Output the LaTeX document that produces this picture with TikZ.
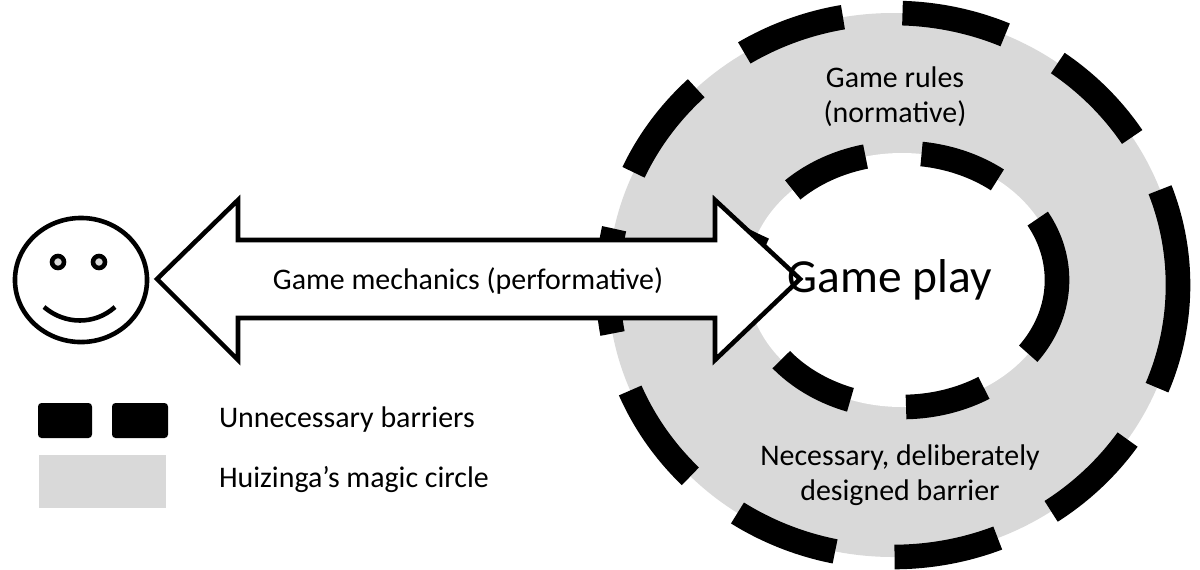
\documentclass[tikz,border=0pt]{standalone}
\usepackage{fontspec}
\setmainfont{Carlito}
\usetikzlibrary{positioning,shapes.geometric}
\definecolor{ringgray}{gray}{0.85}

\begin{document}
\begin{tikzpicture}[x=0.01cm,y=-0.01cm,
barrier/.style={line width=7pt,dash pattern=on 30pt off 17pt},
label/.style={font=\fontsize{8.5}{10}\selectfont,align=center},
every path/.style={line width=1.3pt}]
\useasboundingbox (0,0) rectangle (1200,569);

% magic circle and barriers
\fill[ringgray] (893,285) ellipse [x radius=285, y radius=272];
\fill[white] (902,280) ellipse [x radius=155, y radius=127];
\draw[barrier] (893,285) ellipse [x radius=285, y radius=272];
\draw[barrier,dash pattern=on 23pt off 16pt] (902,280) ellipse [x radius=155, y radius=127];

% smiley
\node[draw,ellipse,minimum width=1.32cm,minimum height=1.24cm,inner sep=0] (face) at (81,280) {};
\node[draw,circle,fill=ringgray,minimum size=0.12cm,inner sep=0] (leye) at (58,262) {};
\node[draw,circle,fill=ringgray,minimum size=0.12cm,inner sep=0] (reye) at (99,262) {};
\coordinate (ms) at (44,307);
\coordinate (me) at (115,307);
\draw (ms) .. controls (65,325) and (95,325) .. (me);

% double arrow
\coordinate (lt) at (157,279);
\coordinate (rt) at (800,279);
\draw[fill=white,line join=miter] (lt) -- (238,200) -- (238,240) -- (715,240) -- (715,200)
  -- (rt) -- (715,360) -- (715,318) -- (238,318) -- (238,360) -- cycle;
\node[label] (mech) at (468,281) {Game mechanics (performative)};

% texts in the circle
\node[label] (rules) at (895,97) {Game rules\\(normative)};
\node[font=\fontsize{13.5}{16}\selectfont] (play) at (890,280) {Game play};
\node[label] (needed) at (900,475) {Necessary, deliberately\\designed barrier};

% legend
\fill[rounded corners=1pt] (38,403) rectangle (92,438);
\fill[rounded corners=1pt] (112,403) rectangle (168,438);
\fill[ringgray] (39,455) rectangle (166,508);
\node[label,anchor=west] (unneeded) at (205,420) {Unnecessary barriers};
\node[label,anchor=west] (huiz) at (205,480) {Huizinga’s magic circle};
\end{tikzpicture}
\end{document}
